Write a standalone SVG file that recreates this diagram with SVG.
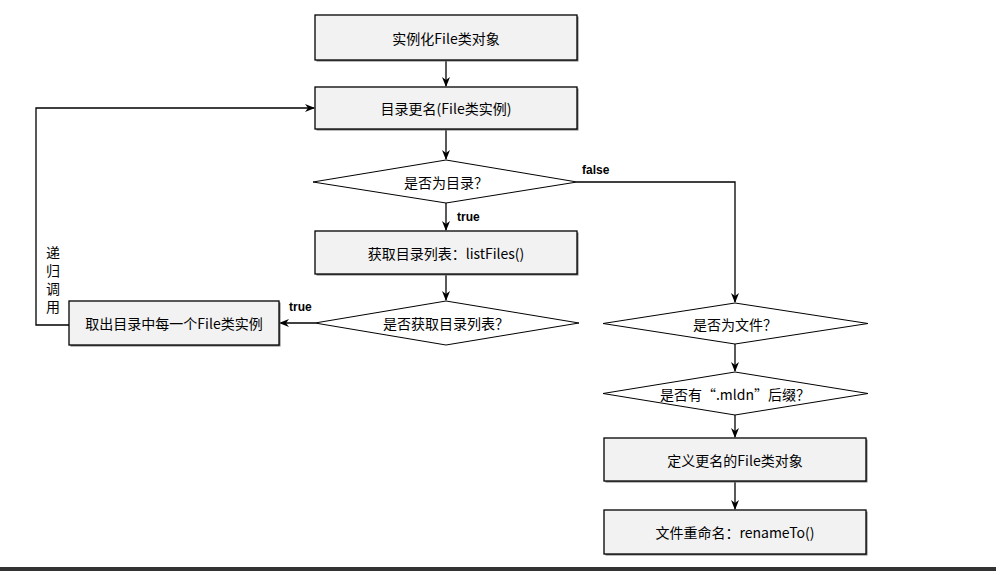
<svg xmlns="http://www.w3.org/2000/svg" width="996" height="571" viewBox="0 0 996 571">
<defs>
<style>
.box{fill:#f2f2f2;stroke:#000;stroke-width:1.3}
.sh{fill:#777}
.t{font-family:"Noto Sans CJK SC","Liberation Sans",sans-serif;font-size:14px;fill:#000;text-anchor:middle;dominant-baseline:central}
.v{font-family:"Noto Sans CJK SC","Liberation Sans",sans-serif;font-size:14px;fill:#000;writing-mode:vertical-rl;letter-spacing:4px}
.lb{font-family:"Liberation Sans","Noto Sans CJK SC",sans-serif;font-size:12px;font-weight:bold;fill:#000}
.c{fill:none;stroke:#000;stroke-width:1.3}
.dm{fill:#fff;stroke:#000;stroke-width:1}
</style>
<marker id="ar" viewBox="0 0 10 10" refX="9" refY="5" markerWidth="10" markerHeight="10" markerUnits="userSpaceOnUse" orient="auto">
<path d="M0,1 L10,5 L0,9 L3,5 Z" fill="#000"/>
</marker>
</defs>
<rect x="0" y="0" width="996" height="571" fill="#fff"/>
<rect x="0" y="567" width="996" height="4" fill="#333"/>

<g id="connectors">
<path class="c" d="M446,60 V86" marker-end="url(#ar)"/>
<path class="c" d="M446,129 V159" marker-end="url(#ar)"/>
<path class="c" d="M446,203 V230" marker-end="url(#ar)"/>
<path class="c" d="M446,274 V300" marker-end="url(#ar)"/>
<path class="c" d="M315,323 H280" marker-end="url(#ar)"/>
<path class="c" d="M69,325 H36 V108 H314" marker-end="url(#ar)"/>
<path class="c" d="M577,182 H735 V302" marker-end="url(#ar)"/>
<path class="c" d="M735,344 V371" marker-end="url(#ar)"/>
<path class="c" d="M735,415 V437" marker-end="url(#ar)"/>
<path class="c" d="M735,481 V509" marker-end="url(#ar)"/>
<text class="lb" x="457" y="221">true</text>
<text class="lb" x="582" y="174">false</text>
<text class="lb" x="289" y="311">true</text>
<text class="v" x="53" y="246">递归调用</text>
</g>

<g id="n1">
<rect class="sh" x="316.5" y="16.5" width="262" height="45"/>
<rect class="box" x="315" y="15" width="262" height="45"/>
<text class="t" x="446" y="37.5">实例化File类对象</text>
</g>
<g id="n2">
<rect class="sh" x="316.5" y="88.5" width="262" height="42"/>
<rect class="box" x="315" y="87" width="262" height="42"/>
<text class="t" x="446" y="108">目录更名(File类实例)</text>
</g>
<g id="n3">
<polygon class="dm" points="446,160 577,182 446,203 313,182"/>
<text class="t" x="446" y="182">是否为目录？</text>
</g>
<g id="n4">
<rect class="sh" x="316.5" y="232.5" width="262" height="43"/>
<rect class="box" x="315" y="231" width="262" height="43"/>
<text class="t" x="446" y="252.5">获取目录列表：listFiles()</text>
</g>
<g id="n5">
<polygon class="dm" points="446,301 579,323 446,345 315,323"/>
<text class="t" x="446" y="323">是否获取目录列表？</text>
</g>
<g id="n6">
<rect class="sh" x="70.5" y="302.5" width="210" height="44"/>
<rect class="box" x="69" y="301" width="210" height="44"/>
<text class="t" x="174" y="323">取出目录中每一个File类实例</text>
</g>
<g id="n7">
<polygon class="dm" points="735,303 868,323.5 735,344 603,323.5"/>
<text class="t" x="735" y="323.5">是否为文件？</text>
</g>
<g id="n8">
<polygon class="dm" points="735,372 868,393.5 735,415 603,393.5"/>
<text class="t" x="735" y="393.5">是否有“.mldn”后缀？</text>
</g>
<g id="n9">
<rect class="sh" x="605.5" y="439.5" width="262" height="43"/>
<rect class="box" x="604" y="438" width="262" height="43"/>
<text class="t" x="735" y="459.5">定义更名的File类对象</text>
</g>
<g id="n10">
<rect class="sh" x="605.5" y="511.5" width="262" height="44"/>
<rect class="box" x="604" y="510" width="262" height="44"/>
<text class="t" x="735" y="532">文件重命名：renameTo()</text>
</g>
</svg>
